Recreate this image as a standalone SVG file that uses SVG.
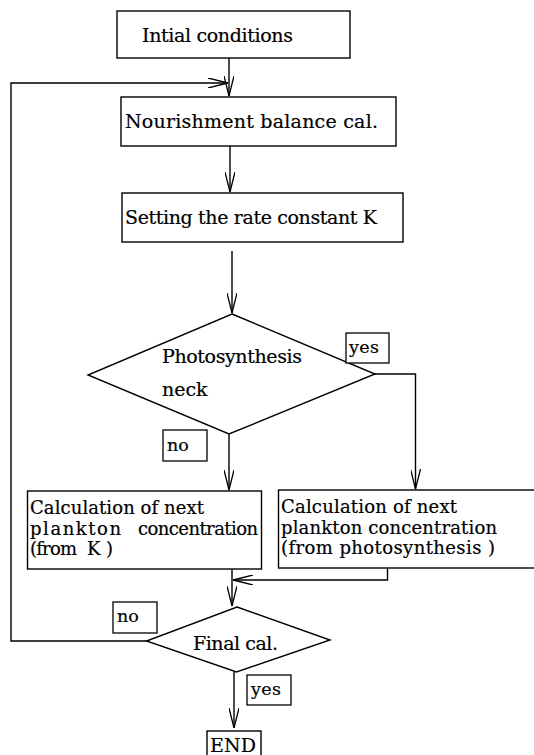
<svg xmlns="http://www.w3.org/2000/svg" width="534" height="755" viewBox="0 0 534 755">
<style>
  .box { fill: #ffffff; stroke: #000000; stroke-width: 1.4; }
  .lbl { fill: #ffffff; stroke: #000000; stroke-width: 1.3; }
  .conn { fill: none; stroke: #000000; stroke-width: 1.4; }
  text { font-family: "DejaVu Serif", "Liberation Serif", serif; font-size: 19px; fill: #000000; stroke: #000000; stroke-width: 0.2; }
  .multi { font-size: 18px; }
  .small { font-size: 17.5px; }
</style>
<defs>
  <marker id="arrow" viewBox="0 0 20 10" refX="20" refY="5" markerWidth="20" markerHeight="10" markerUnits="userSpaceOnUse" orient="auto">
    <path d="M0,0 L20,5 L0,10" fill="none" stroke="#000000" stroke-width="1.3"/>
  </marker>
</defs>
<rect width="534" height="755" fill="#ffffff"/>

<g id="connectors">
  <path class="conn" d="M229,58 V96" marker-end="url(#arrow)"/>
  <path class="conn" d="M146.5,641 H11 V83 H228" marker-end="url(#arrow)"/>
  <path class="conn" d="M230,146 V192" marker-end="url(#arrow)"/>
  <path class="conn" d="M232,251 V313" marker-end="url(#arrow)"/>
  <path class="conn" d="M375,374 H415.5 V489" marker-end="url(#arrow)"/>
  <path class="conn" d="M229,434 V490" marker-end="url(#arrow)"/>
  <path class="conn" d="M387.5,568 V580 H233" marker-end="url(#arrow)"/>
  <path class="conn" d="M232,569 V606" marker-end="url(#arrow)"/>
  <path class="conn" d="M234,672 V728" marker-end="url(#arrow)"/>
</g>

<g id="initial">
  <rect class="box" x="117" y="11" width="233" height="47"/>
  <text x="142" y="42" textLength="151">Intial conditions</text>
</g>

<g id="nourishment">
  <rect class="box" x="121" y="97" width="275" height="49"/>
  <text x="125" y="128" textLength="253">Nourishment balance cal.</text>
</g>

<g id="rate">
  <rect class="box" x="122" y="193" width="281" height="49"/>
  <text x="125" y="224" textLength="252">Setting the rate constant K</text>
</g>

<g id="photosynthesis">
  <polygon class="box" points="232,314 375,374 229,434 88,375"/>
  <text x="162" y="363" textLength="140">Photosynthesis</text>
  <text x="162" y="396">neck</text>
</g>

<g id="label-yes1">
  <rect class="lbl" x="346" y="333" width="43" height="30"/>
  <text class="small" x="349" y="353" textLength="30">yes</text>
</g>

<g id="label-no1">
  <rect class="lbl" x="163" y="430" width="44" height="31"/>
  <text class="small" x="167" y="451">no</text>
</g>

<g id="calc-k">
  <rect class="box" x="27.5" y="491" width="234" height="78"/>
  <text class="multi" x="30" y="514" textLength="174">Calculation of next</text>
  <text class="multi" y="535"><tspan x="30" textLength="91">plankton</tspan><tspan x="138" textLength="120">concentration</tspan></text>
  <text class="multi" y="555"><tspan x="30" textLength="47">(from</tspan><tspan x="87" textLength="26">K)</tspan></text>
</g>

<g id="calc-photo">
  <rect class="box" x="278.5" y="490" width="262" height="78"/>
  <text class="multi" x="281" y="513" textLength="176">Calculation of next</text>
  <text class="multi" x="281" y="534" textLength="216">plankton concentration</text>
  <text class="multi" x="281" y="554" textLength="214" xml:space="preserve">(from photosynthesis )</text>
</g>

<g id="final">
  <polygon class="box" points="237,607 330,640 236.5,672 146.5,641"/>
  <text x="193" y="650" textLength="85">Final cal.</text>
</g>

<g id="label-no2">
  <rect class="lbl" x="113" y="602" width="44" height="31"/>
  <text class="small" x="117" y="622">no</text>
</g>

<g id="label-yes2">
  <rect class="lbl" x="247" y="675" width="44" height="30"/>
  <text class="small" x="251" y="695" textLength="30">yes</text>
</g>

<g id="end">
  <rect class="box" x="207" y="731" width="54" height="32"/>
  <text x="210" y="752" textLength="46">END</text>
</g>
</svg>
